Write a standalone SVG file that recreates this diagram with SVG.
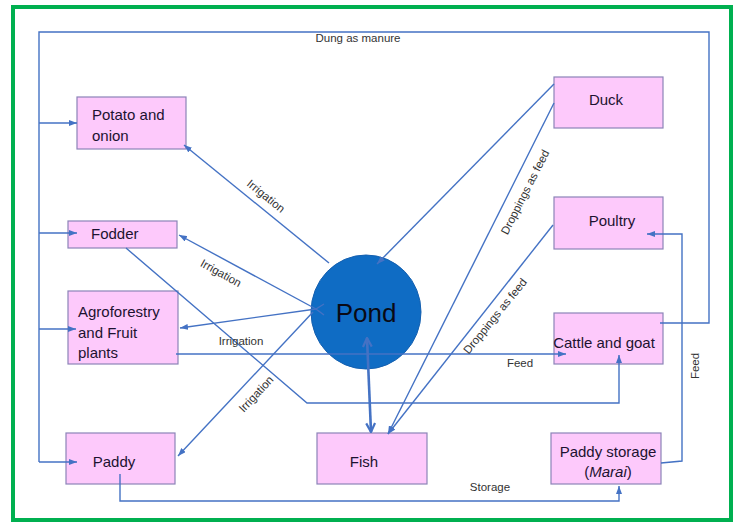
<svg xmlns="http://www.w3.org/2000/svg" width="737" height="523" viewBox="0 0 737 523">
  <style>
    .frame { fill: #ffffff; stroke: #00b050; stroke-width: 4; }
    .box { fill: #fdc9fb; stroke: #8c84b8; stroke-width: 1.2; }
    .pond { fill: #0f6cc4; stroke: #1560b0; stroke-width: 1; }
    .lbl { font-family: "Liberation Sans", Arial, sans-serif; font-size: 15px; fill: #1c1230; }
    .pondtxt { font-family: "Liberation Sans", Arial, sans-serif; font-size: 26px; fill: #0a0a14; }
    .note { font-family: "Liberation Sans", Arial, sans-serif; font-size: 11.5px; fill: #333333; }
    .conn { fill: none; stroke: #4472c4; stroke-width: 1.4; }
    .thick { fill: none; stroke: #4472c4; stroke-width: 2.6; }
  </style>
  <defs>
    <marker id="arr" viewBox="0 0 8 6" refX="8" refY="3" markerWidth="8" markerHeight="6" markerUnits="userSpaceOnUse" orient="auto">
      <path d="M0,0 L8,3 L0,6 Z" fill="#4472c4"/>
    </marker>
    <marker id="vee" viewBox="0 0 10 10" refX="9" refY="5" markerWidth="11" markerHeight="11" markerUnits="userSpaceOnUse" orient="auto-start-reverse">
      <path d="M1,1 L9,5 L1,9" fill="none" stroke="#4472c4" stroke-width="2"/>
    </marker>
  </defs>

  <rect class="frame" x="13" y="7" width="718" height="513"/>

  <!-- nodes -->
  <g id="potato">
    <rect class="box" x="77" y="97" width="109" height="52"/>
    <text class="lbl" x="92" y="120">Potato and</text>
    <text class="lbl" x="92" y="141">onion</text>
  </g>
  <g id="fodder">
    <rect class="box" x="68" y="221" width="109" height="27"/>
    <text class="lbl" x="91" y="239">Fodder</text>
  </g>
  <g id="agroforestry">
    <rect class="box" x="68" y="291" width="110" height="73"/>
    <text class="lbl" x="78" y="317">Agroforestry</text>
    <text class="lbl" x="78" y="338">and Fruit</text>
    <text class="lbl" x="78" y="358">plants</text>
  </g>
  <g id="paddy">
    <rect class="box" x="66" y="433" width="109" height="51"/>
    <text class="lbl" x="114" y="467" text-anchor="middle">Paddy</text>
  </g>
  <g id="fish">
    <rect class="box" x="317" y="433" width="110" height="51"/>
    <text class="lbl" x="364" y="467" text-anchor="middle">Fish</text>
  </g>
  <g id="duck">
    <rect class="box" x="554" y="77" width="109" height="51"/>
    <text class="lbl" x="606" y="105" text-anchor="middle">Duck</text>
  </g>
  <g id="poultry">
    <rect class="box" x="554" y="197" width="109" height="52"/>
    <text class="lbl" x="612" y="226" text-anchor="middle">Poultry</text>
  </g>
  <g id="cattle">
    <rect class="box" x="554" y="313" width="109" height="51"/>
    <text class="lbl" x="604" y="348" text-anchor="middle">Cattle and goat</text>
  </g>
  <g id="paddy-storage">
    <rect class="box" x="551" y="433" width="110" height="51"/>
    <text class="lbl" x="608" y="457" text-anchor="middle">Paddy storage</text>
    <text class="lbl" x="608" y="477" text-anchor="middle">(<tspan font-style="italic">Marai</tspan>)</text>
  </g>
  <g id="pond">
    <ellipse class="pond" cx="366" cy="312" rx="55" ry="57"/>
    <text class="pondtxt" x="366" y="322" text-anchor="middle">Pond</text>
  </g>

  <!-- connectors -->
  <g id="connectors">
    <!-- dung as manure loop from cattle to the crops -->
    <polyline class="conn" points="660,323 709,323 709,32 39,32 39,462"/>
    <line class="conn" x1="39" y1="123" x2="77" y2="123" marker-end="url(#arr)"/>
    <line class="conn" x1="39" y1="233" x2="77" y2="233" marker-end="url(#arr)"/>
    <line class="conn" x1="39" y1="329" x2="76" y2="329" marker-end="url(#arr)"/>
    <line class="conn" x1="39" y1="462" x2="77" y2="462" marker-end="url(#arr)"/>

    <!-- irrigation from the pond -->
    <line class="conn" x1="329" y1="263" x2="184" y2="145" marker-end="url(#arr)"/>
    <line class="conn" x1="316" y1="309" x2="179" y2="235" marker-end="url(#arr)"/>
    <line class="conn" x1="316" y1="309" x2="180" y2="328" marker-end="url(#arr)"/>
    <polyline class="conn" points="324,304 316,309 324,315"/>
    <line class="conn" x1="313" y1="312" x2="178" y2="456" marker-end="url(#arr)"/>

    <!-- agroforestry feed to cattle -->
    <line class="conn" x1="176" y1="354" x2="566" y2="354" marker-end="url(#arr)"/>
    <!-- fodder to cattle -->
    <polyline class="conn" points="126,248 307,403 619,403 619,355" marker-end="url(#arr)"/>
    <!-- paddy to storage -->
    <polyline class="conn" points="120,474 120,501 619,501 619,486" marker-end="url(#arr)"/>
    <!-- storage feed to poultry -->
    <polyline class="conn" points="661,463 682,461 682,234 647,234" marker-end="url(#arr)"/>

    <!-- duck and poultry droppings -->
    <line class="conn" x1="554" y1="84" x2="377" y2="264" marker-end="url(#arr)"/>
    <line class="conn" x1="554" y1="103" x2="388" y2="434" marker-end="url(#arr)"/>
    <line class="conn" x1="553" y1="225" x2="388" y2="434" marker-end="url(#arr)"/>

    <!-- pond and fish, both ways -->
    <line class="thick" x1="367" y1="338" x2="371" y2="432" marker-start="url(#vee)" marker-end="url(#vee)"/>

    <!-- labels -->
    <text class="note" x="358" y="42" text-anchor="middle">Dung as manure</text>
    <text class="note" x="266" y="200" text-anchor="middle" transform="rotate(39 266 196)">Irrigation</text>
    <text class="note" x="221" y="277" text-anchor="middle" transform="rotate(29 221 273)">Irrigation</text>
    <text class="note" x="241" y="345" text-anchor="middle">Irrigation</text>
    <text class="note" x="256" y="398" text-anchor="middle" transform="rotate(-47 256 394)">Irrigation</text>
    <text class="note" x="520" y="367" text-anchor="middle">Feed</text>
    <text class="note" x="490" y="491" text-anchor="middle">Storage</text>
    <text class="note" x="695" y="370" text-anchor="middle" transform="rotate(-90 695 366)">Feed</text>
    <text class="note" x="525" y="196" text-anchor="middle" transform="rotate(-63 525 192)">Droppings as feed</text>
    <text class="note" x="495" y="320" text-anchor="middle" transform="rotate(-51 495 316)">Droppings as feed</text>
  </g>
</svg>
